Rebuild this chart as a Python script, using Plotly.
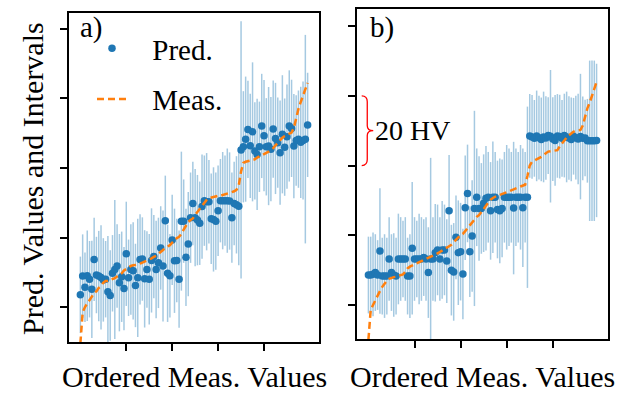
import plotly.graph_objects as go

# ---------------- data (HV) ----------------
idx = list(range(100))

meas_a = [129.5, 138.5, 140, 141, 142, 143, 144, 144.5, 145.5, 146,
          147, 147.5, 147.5, 147.8, 148, 148.3, 148.8, 149.3, 149.7, 150.5,
          151, 151.5, 151.8, 152, 152, 152.2, 152.5, 152.8, 153, 153.2,
          153.6, 154, 154.4, 154.7, 155.3, 156, 156.4, 157, 157.4, 157.8,
          158.5, 159.3, 159.8, 160.2, 161, 162.3, 163.5, 164.5, 165, 165.5,
          166.5, 167.4, 168.3, 169.2, 170, 170.8, 171.3, 171.5, 171.7, 171.8,
          172, 172, 172.2, 172.3, 172.5, 172.7, 173, 173.3, 173.7, 175,
          179, 181.5, 181.8, 182, 182, 182.2, 182.5, 183, 183.3, 183.6,
          184, 184.2, 184.7, 185.2, 185.7, 186.5, 187.3, 188.1, 188.7, 189.2,
          189.5, 189.8, 190.2, 191.5, 194.5, 197, 199, 201, 203, 204.5]

pred_a = [143.5, 148.9, 145.7, 149.0, 148.0, 145.1, 153.7, 149.2, 148.9, 148.5,
          147.8, 148.0, 144.4, 143.3, 149.7, 150.8, 151.8, 147.0, 148.7, 145.3,
          155.3, 148.4, 150.8, 150.4, 146.2, 148.4, 153.7, 153.8, 148.1, 150.8,
          148.0, 153.4, 154.5, 150.8, 152.7, 157.0, 151.8, 164.8, 149.7, 149.0,
          159.3, 153.3, 153.4, 148.0, 164.7, 164.7, 154.3, 158.1, 165.7, 169.8,
          165.7, 165.0, 164.1, 168.9, 170.6, 170.3, 170.3, 165.4, 165.2, 164.7,
          167.7, 170.6, 170.6, 170.6, 170.6, 170.5, 165.7, 169.8, 169.4, 169.0,
          185.2, 186.1, 188.3, 191.1, 186.4, 190.4, 184.9, 183.9, 186.1, 192.1,
          189.3, 186.1, 186.3, 185.4, 191.2, 188.5, 187.3, 184.4, 189.7, 186.0,
          189.0, 192.1, 191.4, 186.3, 187.9, 188.3, 187.4, 187.9, 188.3, 192.4]

err_a = [11, 12, 10, 13, 11, 14, 12, 11, 13, 15,
         12, 11, 16, 13, 11, 20, 12, 14, 13, 12,
         15, 11, 13, 14, 12, 17, 13, 12, 14, 11,
         13, 15, 12, 14, 13, 12, 16, 13, 14, 12,
         13, 15, 12, 14, 20, 12, 14, 15, 13, 12,
         14, 13, 12, 15, 13, 14, 12, 13, 15, 14,
         13, 12, 14, 13, 15, 14, 13, 12, 14, 17,
         37, 16, 18, 14, 15, 20, 14, 16, 13, 15,
         16, 14, 17, 15, 14, 16, 13, 15, 17, 14,
         15, 16, 14, 15, 13, 14, 16, 17, 30, 15]

meas_b = [130, 138.6, 140, 141.5, 143, 144, 145.2, 146.3, 147, 147.5,
          147.8, 148, 148.1, 148.3, 148.6, 148.8, 149.5, 150.5, 151, 151.3,
          151.6, 152, 152.4, 152.7, 153, 153.2, 153.4, 153.7, 154, 154.4,
          154.8, 155.2, 155.6, 156, 156.4, 156.7, 157.3, 158, 158.8, 159.4,
          160, 160.4, 161.2, 162, 163, 163.9, 164.6, 165.3, 165.8, 166.5,
          167.5, 168.5, 169.4, 170.2, 170.7, 171.1, 171.4, 171.6, 171.8, 172,
          172.3, 172.6, 172.9, 173.1, 173.4, 173.7, 174, 174.3, 174.5, 177,
          180, 181.1, 181.4, 181.7, 182, 182.5, 183, 183.6, 184, 184.1,
          184.2, 184.3, 184.4, 185.5, 186.4, 187.2, 188, 188.7, 189.3, 189.7,
          189.9, 190.1, 190.2, 191.5, 194, 196.4, 198, 200, 201.8, 204]

pred_b = [148.6, 148.6, 148.8, 149.3, 148.6, 155.5, 148.3, 148.3, 148.3, 153.2,
          149.3, 148.6, 148.3, 153.2, 153.2, 153.2, 153.2, 148.3, 148.3, 156.3,
          153.2, 153.2, 153.2, 153.2, 153.6, 153.2, 149.3, 153.2, 153.2, 155.0,
          155.8, 153.2, 155.8, 155.8, 152.6, 167.0, 150.0, 149.5, 159.4, 155.0,
          155.3, 148.9, 167.9, 172.0, 155.3, 159.8, 167.7, 170.9, 167.7, 167.7,
          169.2, 170.6, 170.9, 167.0, 170.9, 170.9, 167.4, 167.0, 167.7, 170.9,
          170.9, 170.9, 170.9, 167.8, 170.9, 170.9, 170.9, 167.9, 170.9, 170.9,
          188.5, 188.2, 187.8, 188.5, 188.0, 187.5, 188.2, 187.9, 188.6, 188.4,
          187.6, 187.2, 188.5, 188.3, 187.8, 188.6, 188.2, 187.9, 187.5, 188.4,
          188.0, 187.6, 188.3, 187.8, 187.9, 187.1, 187.1, 187.1, 187.1, 187.2]

err_b = [11, 11, 12, 11, 10, 18, 11, 12, 11, 12,
         11, 12, 11, 13, 12, 11, 12, 11, 12, 19,
         12, 11, 13, 12, 11, 12, 13, 29, 12, 14,
         13, 12, 14, 13, 12, 16, 13, 14, 12, 15,
         14, 13, 15, 14, 13, 16, 28, 14, 15, 13,
         14, 15, 13, 14, 16, 13, 14, 15, 14, 13,
         15, 14, 13, 19, 14, 13, 15, 17, 13, 26,
         12, 12, 11, 13, 12, 12, 13, 12, 11, 19,
         12, 13, 12, 12, 11, 12, 13, 12, 12, 11,
         12, 13, 18, 12, 11, 12, 23, 23, 23, 22]

x_ticks = [20, 40, 60, 80]
y_ticks = [140, 160, 180, 200, 220]

# ---------------- style ----------------
BLUE = "#1f77b4"
ORANGE = "#ff7f0e"
ERRC = "rgba(31,119,180,0.4)"
FONT = "Liberation Serif"
FS = 29
GAP = "\u2002\u2009"  # extra gap between legend symbol and text

fig = go.Figure()

for k, (pred, meas, err) in enumerate([(pred_a, meas_a, err_a), (pred_b, meas_b, err_b)]):
    xa = "x" if k == 0 else "x2"
    ya = "y" if k == 0 else "y2"
    fig.add_trace(go.Scatter(
        x=idx, y=pred, mode="markers", name=GAP + "Pred.",
        marker=dict(color=BLUE, size=7.5),
        error_y=dict(type="data", array=err, symmetric=True, color=ERRC,
                     thickness=1.5, width=0),
        xaxis=xa, yaxis=ya, showlegend=(k == 0), legendgroup="p"))
    fig.add_trace(go.Scatter(
        x=idx, y=meas, mode="lines", name=GAP + "Meas.",
        line=dict(color=ORANGE, width=2.5, dash="7px,4px"),
        xaxis=xa, yaxis=ya, showlegend=(k == 0), legendgroup="m"))

W, H = 618, 394
ax_common = dict(showgrid=False, zeroline=False, showline=True, mirror=True,
                 linecolor="black", linewidth=1.5, ticks="outside", ticklen=7,
                 tickwidth=1.5, tickcolor="black", showticklabels=False)

fig.update_layout(
    width=W, height=H,
    margin=dict(l=0, r=0, t=0, b=0),
    paper_bgcolor="white", plot_bgcolor="white",
    font=dict(family=FONT, size=FS, color="black"),
    xaxis=dict(domain=[69 / W, 319 / W], range=[-4.95, 103.95],
               tickvals=x_ticks, anchor="y", **ax_common),
    yaxis=dict(domain=[(H - 342) / H, (H - 13) / H], range=[129.93, 224.6],
               tickvals=y_ticks, anchor="x", **ax_common),
    xaxis2=dict(domain=[357 / W, 608 / W], range=[-4.95, 103.95],
                tickvals=x_ticks, anchor="y2", **ax_common),
    yaxis2=dict(domain=[(H - 339) / H, (H - 9) / H], range=[130.25, 224.9],
                tickvals=y_ticks, anchor="x2", **ax_common),
    legend=dict(x=92 / W, y=(H - 23) / H, xanchor="left", yanchor="top",
                bgcolor="rgba(0,0,0,0)", borderwidth=0, tracegroupgap=10,
                font=dict(family=FONT, size=FS), itemwidth=30),
    showlegend=True,
)

# brace in panel b
x0, x1, x2 = -2.9, -0.5, 2.1
brace = (f"M {x0},200 Q {x1},200 {x1},198.3 L {x1},191.4 Q {x1},190 {x2},190 "
         f"Q {x1},190 {x1},188.6 L {x1},181.7 Q {x1},180 {x0},180")
fig.add_shape(type="path", path=brace, xref="x2", yref="y2",
              line=dict(color="red", width=1.3))

ann = [
    dict(text="20 HV", x=2.2, y=190, xref="x2", yref="y2", xanchor="left",
         yanchor="middle", showarrow=False, size=28),
    dict(text="a)", x=0.036, y=0.955, xref="x domain", yref="y domain",
         xanchor="left", yanchor="middle", showarrow=False, size=FS),
    dict(text="b)", x=0.045, y=0.945, xref="x2 domain", yref="y2 domain",
         xanchor="left", yanchor="middle", showarrow=False, size=FS),
    dict(text="Pred. Values and Intervals", x=32 / W, y=(H - 179) / H,
         xref="paper", yref="paper", textangle=-90, xanchor="center",
         yanchor="middle", showarrow=False, size=30),
    dict(text="Ordered Meas. Values", x=194.5 / W, y=0,
         xref="paper", yref="paper", xanchor="center", yanchor="bottom",
         borderpad=0, showarrow=False, size=30),
    dict(text="Ordered Meas. Values", x=482.5 / W, y=0,
         xref="paper", yref="paper", xanchor="center", yanchor="bottom",
         borderpad=0, showarrow=False, size=30),
]
for a in ann:
    sz = a.pop("size")
    a["font"] = dict(family=FONT, size=sz, color="black")
    fig.add_annotation(**a)

fig.write_html("out.html",
               config={"displayModeBar": False},
               post_script="document.body.style.margin='0';"
                           "document.body.style.overflow='hidden';")
